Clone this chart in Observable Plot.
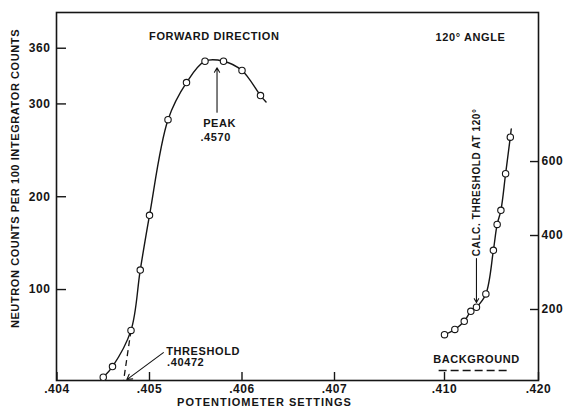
<!DOCTYPE html>
<html><head><meta charset="utf-8">
<script src="https://cdn.jsdelivr.net/npm/d3@7"></script>
<script src="https://cdn.jsdelivr.net/npm/@observablehq/plot@0.6"></script>
<style>
body{margin:0;background:#fff}
#wrap{position:relative;width:567px;height:408px;background:#fff}
#wrap svg{position:absolute;left:0;top:0}
</style></head><body><div id="wrap"></div>
<script>
// ---- data ----
const xBreaks = [0.404, 0.407, 0.410, 0.420];          // broken potentiometer axis
const xTicks = [0.404, 0.405, 0.406, 0.407, 0.410, 0.420];
const leftTicks = [100, 200, 300, 360];
const rightTicks = [200, 400, 600];

// forward direction
const fwdX = [0.40450, 0.40460, 0.40480, 0.40490, 0.40500, 0.40520, 0.40540, 0.40560, 0.40580, 0.40600, 0.40620];
const fwdY = [5.5, 17, 56, 121, 180, 283, 323, 346, 346, 336, 309];
const fwdEndX = 0.40626, fwdEndY = 302;
const thresholdFwd = 0.40472;
const peakX = 0.40573;

// 120 degree angle
const angX = [0.4100, 0.4111, 0.4121, 0.4128, 0.4134, 0.4144, 0.4152, 0.4156, 0.4160, 0.4165, 0.4170];
const angY = [132, 146, 168, 195, 206, 242, 360, 430, 468, 567, 666];
const angEndX = 0.4171, angEndY = 688;
const calcThreshold120 = 0.4134;
const backgroundX = [0.40984, 0.4167];
const backgroundLevel = 35;

const yLabel = "NEUTRON COUNTS PER 100 INTEGRATOR COUNTS";
const xLabel = "POTENTIOMETER SETTINGS";

// ---- build ----
const fwd = fwdX.map((x, i) => ({x, y: fwdY[i]}));
const fwdCurve = [...fwd, {x: fwdEndX, y: fwdEndY}];
const ang = angX.map((x, i) => ({x, y: angY[i]}));
const angCurve = [...ang, {x: angEndX, y: angEndY}];
const fmt = d => d.toFixed(3).replace(/^0/, "");

const ink = "#151515";
const common = {
  width: 567, height: 408,
  marginLeft: 56, marginRight: 29, marginTop: 12, marginBottom: 28,
  style: {fontFamily: "'Liberation Sans', Arial, sans-serif", fontWeight: "bold", fontSize: "12px", color: ink, background: "transparent", overflow: "visible", letterSpacing: "0.6px"}
};
const xOpt = {type: "linear", domain: xBreaks, range: [56.5, 334, 444, 538]};

const p1 = Plot.plot({
  ...common,
  x: xOpt,
  y: {domain: [2, 398.5], range: [380, 12]},
  marks: [
    Plot.frame({stroke: ink, strokeWidth: 1.6}),
    Plot.axisX({ticks: xTicks, tickFormat: fmt, tickSize: -8, tickPadding: 12, label: null, strokeWidth: 1.4}),
    Plot.axisY({ticks: leftTicks, tickSize: -10, tickPadding: 16, label: null, strokeWidth: 1.4}),
    Plot.text([xLabel], {frameAnchor: "bottom-left", dx: 208, dy: 25, textAnchor: "middle", fontSize: 11}),
    Plot.text([yLabel], {frameAnchor: "left", dx: -41, dy: -18, rotate: -90, textAnchor: "middle", fontSize: 11}),
    Plot.line(fwdCurve, {x: "x", y: "y", curve: "catmull-rom", stroke: ink, strokeWidth: 1.4}),
    Plot.link([{x1: fwdX[2], y1: fwdY[2], x2: thresholdFwd, y2: 2}], {x1: "x1", y1: "y1", x2: "x2", y2: "y2", stroke: ink, strokeWidth: 1.3, strokeDasharray: "6,4"}),
    Plot.dot(fwd, {x: "x", y: "y", r: 3.2, fill: "white", stroke: ink, strokeWidth: 1.1}),
    Plot.arrow([{x1: peakX, y1: 291, x2: peakX, y2: 339}], {x1: "x1", y1: "y1", x2: "x2", y2: "y2", stroke: ink, strokeWidth: 1.1, headLength: 7}),
    Plot.arrow([{x1: 0.40515, y1: 32, x2: 0.404755, y2: 3}], {x1: "x1", y1: "y1", x2: "x2", y2: "y2", stroke: ink, strokeWidth: 1.1, headLength: 8}),
    Plot.text(["FORWARD DIRECTION"], {x: 0.4057, y: 373, textAnchor: "middle", fontSize: 11}),
    Plot.text(["PEAK"], {x: 0.40558, y: 279, textAnchor: "start", fontSize: 11}),
    Plot.text([".4570"], {x: 0.40555, y: 264, textAnchor: "start", fontSize: 11}),
    Plot.text(["THRESHOLD"], {x: 0.40518, y: 33.5, textAnchor: "start", fontSize: 11}),
    Plot.text([".40472"], {x: 0.40519, y: 21.7, textAnchor: "start", fontSize: 11})
  ]
});

const p2 = Plot.plot({
  ...common,
  x: {...xOpt, axis: null},
  y: {domain: [8, 1003], range: [380, 12]},
  marks: [
    Plot.axisY({anchor: "right", ticks: rightTicks, tickSize: -9, tickPadding: 12, label: null, strokeWidth: 1.4}),
    Plot.line(angCurve, {x: "x", y: "y", curve: "catmull-rom", stroke: ink, strokeWidth: 1.4}),
    Plot.dot(ang, {x: "x", y: "y", r: 3.2, fill: "white", stroke: ink, strokeWidth: 1.1}),
    Plot.arrow([{x1: calcThreshold120, y1: 338, x2: calcThreshold120, y2: 219}], {x1: "x1", y1: "y1", x2: "x2", y2: "y2", stroke: ink, strokeWidth: 1.1, headLength: 6}),
    Plot.text(["CALC. THRESHOLD AT 120°"], {x: calcThreshold120, y: 344, rotate: -90, textAnchor: "start", fontSize: 10}),
    Plot.link([{x1: backgroundX[0], x2: backgroundX[1], y: backgroundLevel}], {x1: "x1", x2: "x2", y1: "y", y2: "y", stroke: ink, strokeWidth: 1.4, strokeDasharray: "8,4"}),
    Plot.text(["BACKGROUND"], {x: 0.4134, y: 64, textAnchor: "middle", fontSize: 11}),
    Plot.text(["120° ANGLE"], {x: 0.41277, y: 936, textAnchor: "middle", fontSize: 11})
  ]
});

document.getElementById("wrap").append(p1, p2);
d3.select(p1).selectAll("text").filter(function () { return this.textContent === xLabel; }).attr("letter-spacing", "1px");
</script>
</body></html>
